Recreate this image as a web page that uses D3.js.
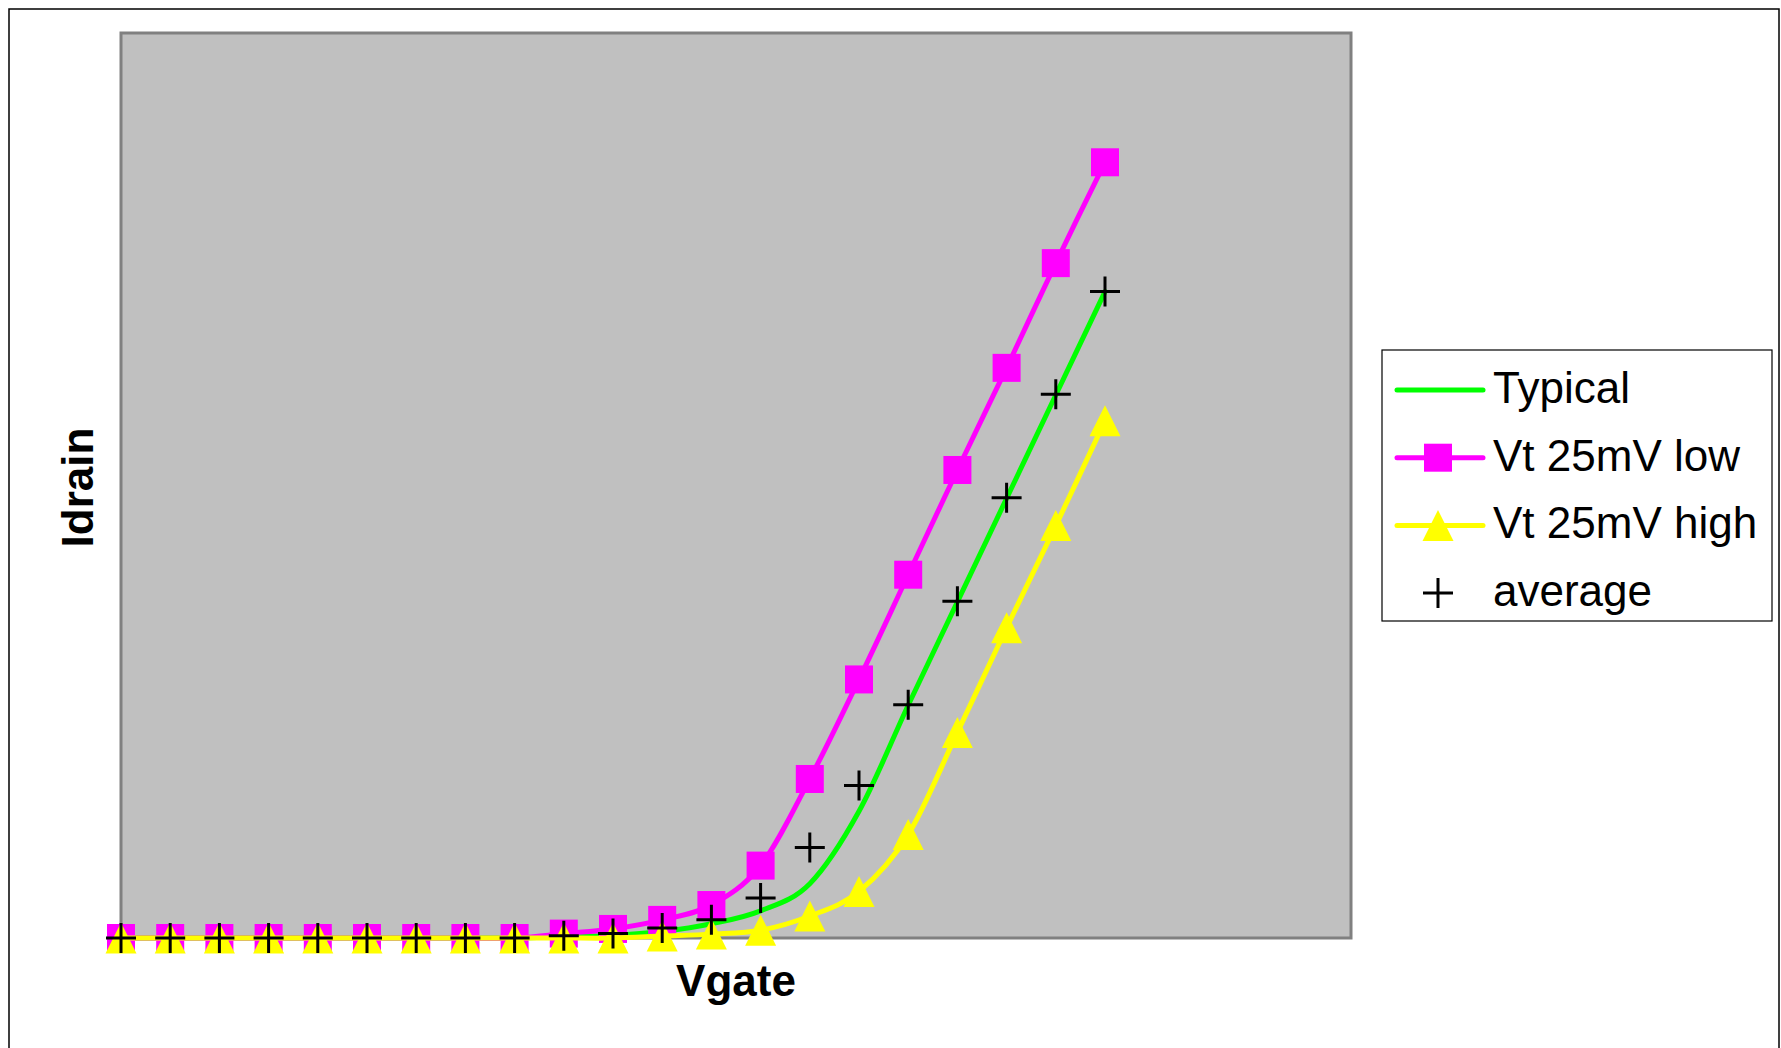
<!DOCTYPE html>
<html>
<head>
<meta charset="utf-8">
<script src="https://cdn.jsdelivr.net/npm/d3@7"></script>
<style>
  html, body { margin: 0; padding: 0; background: #ffffff; }
  svg { display: block; }
  text { font-family: "Liberation Sans", Arial, sans-serif; }
</style>
</head>
<body>
<svg id="chart" width="1781" height="1048"></svg>
<script>
// Gate voltage sweep (V)
const vgate = [0.00, 0.05, 0.10, 0.15, 0.20, 0.25, 0.30, 0.35, 0.40, 0.45,
               0.50, 0.55, 0.60, 0.65, 0.70, 0.75, 0.80, 0.85, 0.90, 0.95, 1.00];

// Drain current (mA) for each corner
const typical = [0, 0, 0, 0, 0, 0, 0, 0, 0, 0.001,
                 0.002, 0.005, 0.011, 0.021, 0.042, 0.098, 0.180, 0.260, 0.340, 0.420, 0.500];
const vtLow   = [0, 0, 0, 0, 0, 0, 0, 0, 0, 0.0034,
                 0.007, 0.014, 0.0255, 0.056, 0.123, 0.200, 0.281, 0.362, 0.441, 0.522, 0.600];
const vtHigh  = [0, 0, 0, 0, 0, 0, 0, 0, 0, 0,
                 0, 0.0015, 0.003, 0.006, 0.017, 0.036, 0.080, 0.159, 0.240, 0.319, 0.400];
const average = [0, 0, 0, 0, 0, 0, 0, 0, 0, 0.0017,
                 0.0035, 0.0078, 0.0142, 0.031, 0.070, 0.118, 0.1805, 0.2605, 0.3405, 0.4205, 0.500];

const seriesNames = ["Typical", "Vt 25mV low", "Vt 25mV high", "average"];
const xTitle = "Vgate";
const yTitle = "Idrain";

const svg = d3.select("#chart");

// Outer chart frame
svg.append("rect")
  .attr("x", 9).attr("y", 9)
  .attr("width", 1770).attr("height", 1080)
  .attr("fill", "#ffffff")
  .attr("stroke", "#000000")
  .attr("stroke-width", 1.5);

// Plot area
const plot = { left: 121, top: 33, right: 1351, bottom: 938 };

const x = d3.scaleLinear().domain([0, 1.25]).range([plot.left, plot.right]);
const y = d3.scaleLinear().domain([0, 0.7]).range([plot.bottom, plot.top]);

svg.append("rect")
  .attr("x", plot.left).attr("y", plot.top)
  .attr("width", plot.right - plot.left)
  .attr("height", plot.bottom - plot.top)
  .attr("fill", "#c0c0c0")
  .attr("stroke", "#808080")
  .attr("stroke-width", 3);

// Smoothed lines (cardinal spline, like spreadsheet smoothing)
const line = d3.line()
  .x(d => x(d[0]))
  .y(d => y(d[1]))
  .curve(d3.curveCatmullRom.alpha(0));

const zip = vals => vgate.map((v, i) => [v, vals[i]]);

const sqSize = 28;
const triSize = 31;
const plusSize = 30;

function drawSquare(g, cx, cy, color) {
  g.append("rect")
    .attr("x", cx - sqSize / 2).attr("y", cy - sqSize / 2)
    .attr("width", sqSize).attr("height", sqSize)
    .attr("fill", color);
}
function drawTriangle(g, cx, cy, color) {
  const h = triSize;
  g.append("path")
    .attr("d", `M${cx},${cy - h / 2}L${cx + h / 2},${cy + h / 2}L${cx - h / 2},${cy + h / 2}Z`)
    .attr("fill", color);
}
function drawPlus(g, cx, cy) {
  g.append("path")
    .attr("d", `M${cx - plusSize / 2},${cy}H${cx + plusSize / 2}M${cx},${cy - plusSize / 2}V${cy + plusSize / 2}`)
    .attr("stroke", "#000000")
    .attr("stroke-width", 3)
    .attr("fill", "none");
}

const series = [
  { name: seriesNames[0], values: typical, color: "#00ff00", line: true,  marker: null },
  { name: seriesNames[1], values: vtLow,   color: "#ff00ff", line: true,  marker: "square" },
  { name: seriesNames[2], values: vtHigh,  color: "#ffff00", line: true,  marker: "triangle" },
  { name: seriesNames[3], values: average, color: "#000000", line: false, marker: "plus" }
];

series.forEach(s => {
  const g = svg.append("g");
  const pts = zip(s.values);
  if (s.line) {
    g.append("path")
      .datum(pts)
      .attr("d", line)
      .attr("fill", "none")
      .attr("stroke", s.color)
      .attr("stroke-width", 5)
      .attr("stroke-linejoin", "round")
      .attr("stroke-linecap", "round");
  }
  pts.forEach(p => {
    const cx = x(p[0]), cy = y(p[1]);
    if (s.marker === "square") drawSquare(g, cx, cy, s.color);
    else if (s.marker === "triangle") drawTriangle(g, cx, cy, s.color);
    else if (s.marker === "plus") drawPlus(g, cx, cy);
  });
});

// Axis titles
svg.append("text")
  .attr("x", (plot.left + plot.right) / 2)
  .attr("y", 996)
  .attr("text-anchor", "middle")
  .attr("font-size", 44)
  .attr("font-weight", "bold")
  .text(xTitle);

svg.append("text")
  .attr("transform", `translate(93,${(plot.top + plot.bottom) / 2 + 2}) rotate(-90)`)
  .attr("text-anchor", "middle")
  .attr("font-size", 44)
  .attr("font-weight", "bold")
  .text(yTitle);

// Legend
const legend = svg.append("g");
legend.append("rect")
  .attr("x", 1382).attr("y", 350)
  .attr("width", 390).attr("height", 271)
  .attr("fill", "#ffffff")
  .attr("stroke", "#000000")
  .attr("stroke-width", 1.2);

const rowY = i => 390 + i * 67.7;
series.forEach((s, i) => {
  const cy = rowY(i);
  const g = legend.append("g");
  if (s.line) {
    g.append("line")
      .attr("x1", 1397).attr("x2", 1483)
      .attr("y1", cy).attr("y2", cy)
      .attr("stroke", s.color)
      .attr("stroke-width", 5)
      .attr("stroke-linecap", "round");
  }
  const mx = 1438;
  if (s.marker === "square") drawSquare(g, mx, cy, s.color);
  else if (s.marker === "triangle") drawTriangle(g, mx, cy, s.color);
  else if (s.marker === "plus") drawPlus(g, mx, cy);
  g.append("text")
    .attr("x", 1493)
    .attr("y", cy + 13)
    .attr("font-size", 44)
    .attr("fill", "#000000")
    .text(s.name);
});
</script>
</body>
</html>
